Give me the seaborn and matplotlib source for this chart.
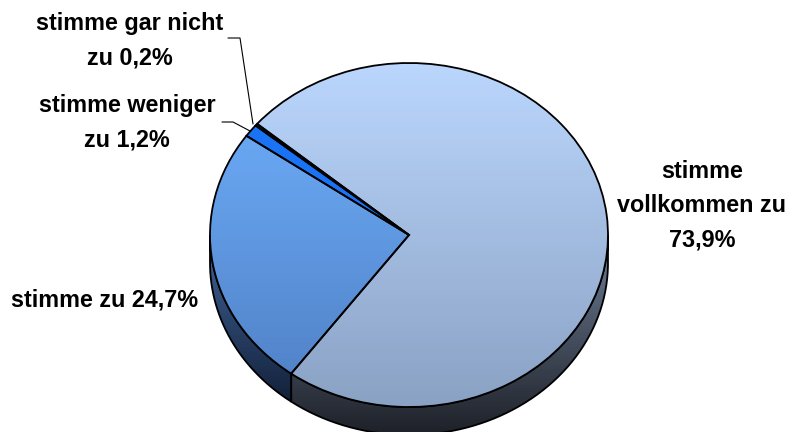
import numpy as np
import matplotlib
matplotlib.use('Agg')
import matplotlib.pyplot as plt
from matplotlib.path import Path
from matplotlib.patches import PathPatch
import seaborn as sns

labels = ['stimme\nvollkommen zu\n73,9%', 'stimme gar nicht\nzu 0,2%', 'stimme weniger\nzu 1,2%', 'stimme zu 24,7%']
values = [73.9, 0.2, 1.2, 24.7]
tops = ['#bbd6fd', '#0a3f96', '#1a72f5', '#70b2ff']
bottoms = ['#8aa2c4', '#0a3f96', '#1a72f5', '#4f7fc4']
rim_tops = ['#6f7f99', '#0a2040', '#0a2040', '#42659b']
rim_bottoms = ['#1e2128', '#0a2040', '#0a2040', '#091427']

# pixel geometry of the ellipse
W, H = 792, 432
cx, cy, rx, ry = 409, 235, 199, 172
depth = 28
start = 233.7

sns.set_theme(style='white')
plt.rcParams['font.family'] = ['Liberation Sans', 'DejaVu Sans']

fig = plt.figure(figsize=(W / 100, H / 100), dpi=100)
ax = fig.add_axes([0, 0, 1, 1])
wedges, _ = ax.pie(values, startangle=start, counterclock=True,
                   wedgeprops={'edgecolor': 'black', 'linewidth': 1.3, 'facecolor': 'none'})
ax.set_aspect('auto')
ax.axis('off')
d = depth / ry


def grad(c1, c2, y0, y1, clip, z):
    cols = sns.blend_palette([c1, c2], 64)
    img = np.array(cols)[:, None, :]
    im = ax.imshow(img, extent=(-1.05, 1.05, y0, y1), origin='upper', aspect='auto', zorder=z)
    im.set_clip_path(clip)


# side rim, only the lower half of each slice is visible
for w, c1, c2 in zip(wedges, rim_tops, rim_bottoms):
    a0, a1 = w.theta1 % 360, w.theta2 % 360
    if a1 < a0:
        a1 += 360
    lo, hi = max(a0, 180), min(a1, 360)
    if hi <= lo:
        continue
    t = np.radians(np.linspace(lo, hi, 120))
    xs = np.r_[np.cos(t), np.cos(t[::-1])]
    ys = np.r_[np.sin(t), np.sin(t[::-1]) - d]
    verts = np.c_[xs, ys]
    p = PathPatch(Path(np.vstack([verts, verts[0]])), fc='none', ec='black', lw=1.3, zorder=3)
    ax.add_patch(p)
    # rim gradient follows the height of the side band
    grad(c1, c2, -1 - d, 0.0, p, 2)

# top faces
for w, c1, c2 in zip(wedges, tops, bottoms):
    w.set_zorder(5)
    clip = PathPatch(w.get_path(), transform=w.get_transform(), fc='none', ec='none')
    ax.add_patch(clip)
    grad(c1, c2, -1, 1, clip, 4)
ax.set_xlim(-cx / rx, (W - cx) / rx)
ax.set_ylim((cy - H) / ry, cy / ry)


def px(x, y):
    return (x - cx) / rx, (cy - y) / ry


fs = 16.8
for lab, (x, y) in zip(labels, [(702, 206), (130, 41), (127, 123), (105, 300)]):
    ax.text(*px(x, y), lab, ha='center', va='center', fontsize=fs, fontweight='bold',
            color='black', linespacing=1.62, zorder=8)

# leader lines
for pts in ([(228, 38), (240, 38), (253, 124)], [(222, 122), (233, 122), (250, 131)]):
    xy = np.array([px(*q) for q in pts])
    ax.plot(xy[:, 0], xy[:, 1], color='black', lw=0.8, zorder=8)

fig.savefig('out.png', dpi=100)
